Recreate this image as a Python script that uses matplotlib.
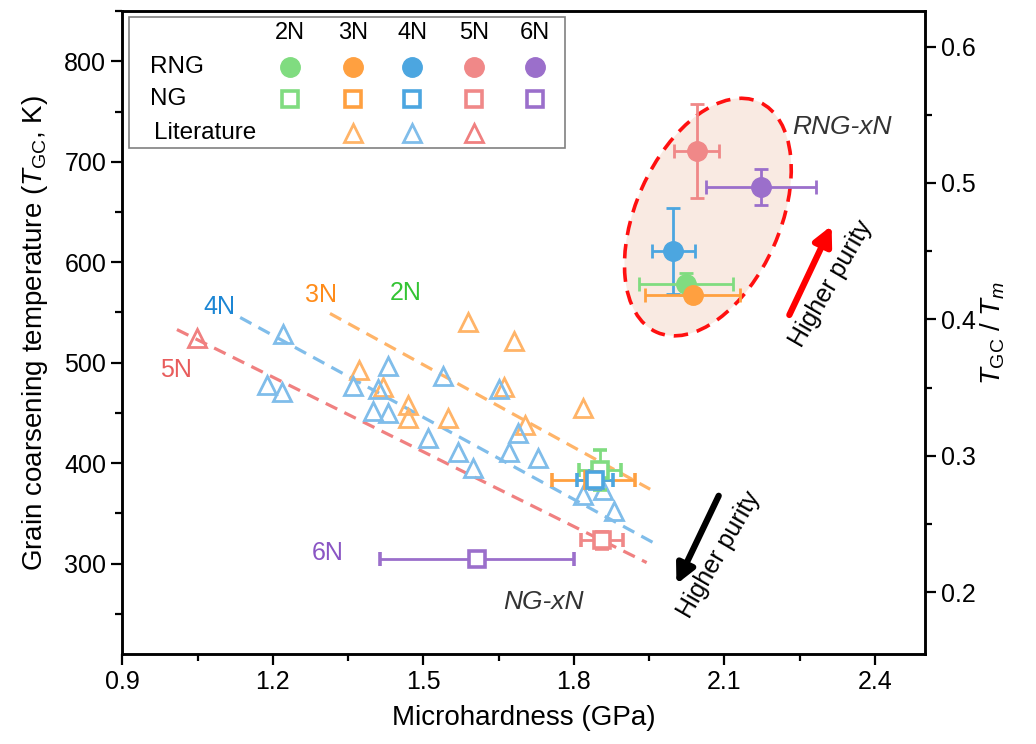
import matplotlib
matplotlib.use('Agg')
import matplotlib.pyplot as plt
from matplotlib.patches import Ellipse, Rectangle
from matplotlib.transforms import ScaledTranslation
from matplotlib.ticker import MultipleLocator

plt.rcParams['font.family'] = ['Liberation Sans', 'DejaVu Sans']
plt.rcParams['mathtext.fontset'] = 'custom'
plt.rcParams['mathtext.rm'] = 'Liberation Sans'
plt.rcParams['mathtext.it'] = 'Liberation Sans:italic'

T_MELT = 1358  # K, melting point of Cu

purity = ['2N', '3N', '4N', '5N', '6N']
mark_colors = ['#80DC80', '#FFA040', '#4CA6E0', '#F08888', '#9B6FCB']
lit_colors = ['#80DC80', '#FFB468', '#80BDEA', '#F08080', '#9B6FCB']
text_colors = ['#33C433', '#FF8C1A', '#1C86D4', '#E85C5C', '#8A55C4']

# RNG samples (filled circles)
rng_x = [2.024, 2.037, 1.998, 2.045, 2.173]
rng_xerr = [0.094, 0.095, 0.043, 0.045, 0.110]
rng_y = [578, 567, 611, 711, 675]
rng_yerr = [11, 4, 43, 47, 18]

# NG samples (open squares)
ng_x = [1.852, 1.839, 1.842, 1.856, 1.607]
ng_xerr = [0.042, 0.083, 0.035, 0.042, 0.193]
ng_y = [393, 383, 383, 323, 305]
ng_yerr = [20, 4, 9, 8, 3]

# literature data (open triangles)
lit_3n_x = [1.371, 1.420, 1.469, 1.469, 1.549, 1.590, 1.660, 1.680, 1.703, 1.819]
lit_3n_y = [493, 476, 458, 445, 445, 541, 476, 522, 438, 455]
lit_4n_x = [1.188, 1.219, 1.220, 1.360, 1.399, 1.409, 1.429, 1.429, 1.509, 1.539,
            1.570, 1.599, 1.650, 1.670, 1.689, 1.729, 1.819, 1.859, 1.879]
lit_4n_y = [478, 471, 529, 477, 452, 474, 450, 497, 425, 487,
            411, 395, 474, 411, 430, 405, 368, 373, 352]
lit_5n_x = [1.049]
lit_5n_y = [525]

# dashed trend lines (start, end)
fit_3n_x = [1.314, 1.952]
fit_3n_y = [549, 374]
fit_4n_x = [1.135, 1.965]
fit_4n_y = [545, 319]
fit_5n_x = [1.009, 1.945]
fit_5n_y = [533, 301]

fig = plt.figure(figsize=(10.36, 7.44), dpi=100)
ax = fig.add_axes([0.118, 0.121, 0.775, 0.864])

# RNG ellipse (in inches, centred on a data point)
ell_center = (2.067, 645)
trans = fig.dpi_scale_trans + ScaledTranslation(ell_center[0], ell_center[1], ax.transData)
ell = Ellipse((0, 0), 2.52, 1.44, angle=66, transform=trans,
              facecolor='#F9EAE2', edgecolor='#FF1010', lw=2.6,
              linestyle=(0, (4, 2.5)), zorder=1)
ax.add_patch(ell)

ax.plot(fit_3n_x, fit_3n_y, color=lit_colors[1], lw=2.3, dashes=(4, 2.5), zorder=2)
ax.plot(fit_4n_x, fit_4n_y, color=lit_colors[2], lw=2.3, dashes=(4, 2.5), zorder=2)
ax.plot(fit_5n_x, fit_5n_y, color=lit_colors[3], lw=2.3, dashes=(4, 2.5), zorder=2)

tri = dict(marker='^', ms=13, mfc='none', mew=2.0, ls='none', zorder=3)
ax.plot(lit_3n_x, lit_3n_y, mec=lit_colors[1], **tri)
ax.plot(lit_4n_x, lit_4n_y, mec=lit_colors[2], **tri)
ax.plot(lit_5n_x, lit_5n_y, mec=lit_colors[3], **tri)

for i in range(5):
    ax.errorbar(ng_x[i], ng_y[i], xerr=ng_xerr[i], yerr=ng_yerr[i], fmt='s',
                ms=11, mfc='white', mec=mark_colors[i], mew=2.6,
                ecolor=mark_colors[i], elinewidth=2, capsize=5, capthick=2, zorder=4)

for i in [4, 3, 2, 0, 1]:
    ax.errorbar(rng_x[i], rng_y[i], xerr=rng_xerr[i], yerr=rng_yerr[i], fmt='o',
                ms=14, color=mark_colors[i], ecolor=mark_colors[i],
                elinewidth=2, capsize=5, capthick=2, zorder=5)

# labels on the plot
ax.text(1.093, 555, '4N', color=text_colors[2], fontsize=18, ha='center', va='center')
ax.text(1.296, 567, '3N', color=text_colors[1], fontsize=18, ha='center', va='center')
ax.text(1.464, 569, '2N', color=text_colors[0], fontsize=18, ha='center', va='center')
ax.text(1.008, 493, '5N', color=text_colors[3], fontsize=18, ha='center', va='center')
ax.text(1.309, 311, '6N', color=text_colors[4], fontsize=18, ha='center', va='center')
ax.text(2.334, 735, 'RNG-xN', color='#333333', fontsize=19, style='italic', ha='center', va='center')
ax.text(1.739, 262, 'NG-xN', color='#333333', fontsize=19, style='italic', ha='center', va='center')

# higher purity arrows
ax.annotate('', xy=(2.316, 639), xytext=(2.227, 545),
            arrowprops=dict(arrowstyle='-|>', color='#FF0000', lw=4.5, mutation_scale=28))
ax.annotate('', xy=(2.002, 277), xytext=(2.091, 370),
            arrowprops=dict(arrowstyle='-|>', color='black', lw=4.5, mutation_scale=28))
ax.text(2.312, 579, 'Higher purity', fontsize=18, rotation=60, ha='center', va='center')
ax.text(2.090, 309, 'Higher purity', fontsize=18, rotation=60, ha='center', va='center')

# custom legend table
ax.add_patch(Rectangle((0.009, 0.787), 0.543, 0.204, transform=ax.transAxes,
                       facecolor='white', edgecolor='#808080', lw=1.2, zorder=6))
col_x = [0.209, 0.288, 0.361, 0.438, 0.514]
row_y = [0.966, 0.913, 0.863, 0.810]
row_names = ['RNG', 'NG', 'Literature']
for j, name in enumerate(row_names):
    ax.text(0.035 + (0.004 if j == 2 else 0), row_y[j + 1], name, transform=ax.transAxes,
            fontsize=17.5, va='center', ha='left', zorder=7)
lit_in_legend = [False, True, True, True, False]
for i, p in enumerate(purity):
    ax.text(col_x[i], row_y[0], p, transform=ax.transAxes, fontsize=17,
            ha='center', va='center', zorder=7)
    ax.plot(col_x[i], row_y[1], 'o', ms=14, color=mark_colors[i],
            transform=ax.transAxes, clip_on=False, zorder=7)
    ax.plot(col_x[i], row_y[2], 's', ms=11, mfc='white', mec=mark_colors[i], mew=2.6,
            transform=ax.transAxes, clip_on=False, zorder=7)
    if lit_in_legend[i]:
        ax.plot(col_x[i], row_y[3], '^', ms=13, mfc='none', mec=lit_colors[i], mew=2.0,
                transform=ax.transAxes, clip_on=False, zorder=7)

# axes
ylim = (210, 850)
ax.set_xlim(0.9, 2.5)
ax.set_ylim(*ylim)
ax.xaxis.set_major_locator(MultipleLocator(0.3))
ax.xaxis.set_minor_locator(MultipleLocator(0.15))
ax.yaxis.set_major_locator(MultipleLocator(100))
ax.yaxis.set_minor_locator(MultipleLocator(50))
ax.tick_params(which='major', direction='out', length=8, width=1.6, labelsize=18)
ax.tick_params(which='minor', direction='out', length=5, width=1.6)
ax.set_xlabel('Microhardness (GPa)', fontsize=20, labelpad=8)
ax.set_ylabel(r'Grain coarsening temperature ($\mathit{T}_{\mathrm{GC}}$, K)', fontsize=20, labelpad=10)
for s in ax.spines.values():
    s.set_linewidth(1.8)

ax2 = ax.twinx()
ax2.set_ylim(ylim[0] / T_MELT, ylim[1] / T_MELT)
ax2.yaxis.set_major_locator(MultipleLocator(0.1))
ax2.yaxis.set_minor_locator(MultipleLocator(0.05))
ax2.tick_params(which='major', direction='out', length=8, width=1.6, labelsize=18)
ax2.tick_params(which='minor', direction='out', length=5, width=1.6)
ax2.set_ylabel(r'$\mathit{T}_{\mathrm{GC}}$ / $\mathit{T}_{m}$', fontsize=20, labelpad=2)
for s in ax2.spines.values():
    s.set_linewidth(1.8)

fig.savefig('out.png', dpi=100)
